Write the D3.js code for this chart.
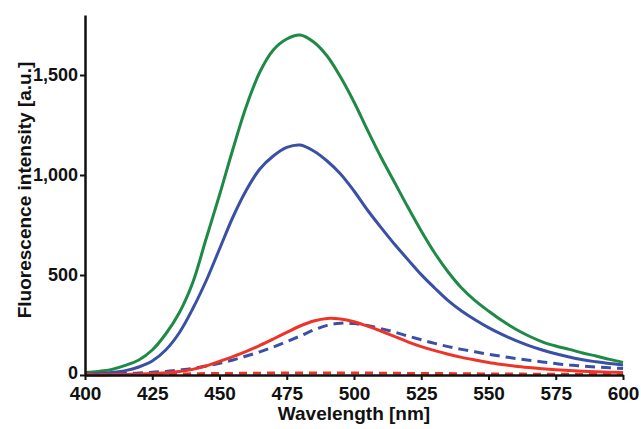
<!DOCTYPE html>
<html>
<head>
<meta charset="utf-8">
<script src="https://cdn.jsdelivr.net/npm/d3@7"></script>
<style>
  html, body { margin: 0; padding: 0; background: #fff; }
  svg { display: block; }
  text { font-family: "Liberation Sans", Arial, sans-serif; font-weight: bold; fill: #111; }
</style>
</head>
<body>
<svg id="chart" width="641" height="429"></svg>
<script>
// Wavelengths (nm), 5 nm steps
const wavelengths = [400,405,410,415,420,425,430,435,440,445,450,455,460,465,470,475,480,485,490,495,500,
                     505,510,515,520,525,530,535,540,545,550,555,560,565,570,575,580,585,590,595,600];

const greenSolid = [12,18,28,48,75,125,205,310,460,680,900,1130,1345,1515,1625,1680,1700,1665,1595,1490,1365,
                    1225,1090,965,840,720,610,515,435,372,320,272,230,195,166,145,128,110,95,78,63];

const blueSolid = [5,8,13,22,40,70,125,210,330,470,630,790,925,1030,1095,1138,1150,1120,1070,1005,920,
                   825,738,655,578,502,435,372,320,276,237,203,173,147,125,106,90,76,66,57,50];

const blueDashed = [2,3,5,7,10,14,18,25,33,45,58,75,95,116,140,167,195,225,248,259,257,
                    247,232,215,195,176,158,142,128,116,104,93,83,74,65,57,50,45,40,36,33];

const redSolid = [0,0,1,2,4,7,11,17,28,45,68,92,118,148,180,213,245,270,283,280,266,
                  244,220,193,166,142,122,104,88,75,63,53,44,37,31,26,22,19,16,14,12];

const redDashed = [2,2,3,3,4,4,5,5,6,7,8,8,9,9,10,10,10,10,10,10,10,
                   10,9,9,8,8,7,7,6,6,5,5,5,4,4,4,4,3,3,3,3];

const xTicks = [400,425,450,475,500,525,550,575,600];
const yTicks = [0,500,1000,1500];

const series = [
  { values: greenSolid, color: "#1f8a45", dash: null },
  { values: blueSolid,  color: "#3a50a6", dash: null },
  { values: blueDashed, color: "#3a50a6", dash: "10,6" },
  { values: redSolid,   color: "#ee3427", dash: null },
  { values: redDashed,  color: "#ee3427", dash: "8,6" }
];

const svg = d3.select("#chart");
const x = d3.scaleLinear().domain([400, 600]).range([85, 623]);
const y = d3.scaleLinear().domain([0, 1800]).range([375, 15]);

const line = d3.line()
  .x((d, i) => x(wavelengths[i]))
  .y(d => y(d))
  .curve(d3.curveCatmullRom.alpha(0.5));

const plot = svg.append("g");
series.forEach(s => {
  plot.append("path")
    .datum(s.values)
    .attr("d", line)
    .attr("fill", "none")
    .attr("stroke", s.color)
    .attr("stroke-width", 3)
    .attr("stroke-linejoin", "round")
    .attr("stroke-dasharray", s.dash);
});

// X axis
const xAxis = svg.append("g")
  .attr("transform", `translate(0,${y(0)})`)
  .call(d3.axisBottom(x).tickValues(xTicks).tickSize(5).tickPadding(7).tickSizeOuter(0));
xAxis.select(".domain").attr("stroke", "#111").attr("stroke-width", 2.5);
xAxis.selectAll(".tick line").attr("stroke", "#111").attr("stroke-width", 2);
xAxis.selectAll(".tick text").attr("font-size", 19).attr("fill", "#111")
  .attr("font-family", '"Liberation Sans", Arial, sans-serif').attr("font-weight", "bold");

// Y axis
const yAxis = svg.append("g")
  .attr("transform", `translate(${x(400)},0)`)
  .call(d3.axisLeft(y).tickValues(yTicks).tickSize(5).tickPadding(2).tickSizeOuter(0)
        .tickFormat(d3.format(",")));
yAxis.select(".domain").attr("stroke", "#111").attr("stroke-width", 2.5);
yAxis.selectAll(".tick line").attr("stroke", "#111").attr("stroke-width", 2);
yAxis.selectAll(".tick text").attr("font-size", 18).attr("fill", "#111")
  .attr("font-family", '"Liberation Sans", Arial, sans-serif').attr("font-weight", "bold");
yAxis.selectAll(".tick text").filter(d => d === 0).attr("dy", "0.2em");

// Axis titles
svg.append("text")
  .attr("x", (x(400) + x(600)) / 2)
  .attr("y", 420)
  .attr("text-anchor", "middle")
  .attr("font-size", 19)
  .text("Wavelength [nm]");

svg.append("text")
  .attr("transform", `translate(31,${(y(0) + 15) / 2 - 5}) rotate(-90)`)
  .attr("text-anchor", "middle")
  .attr("font-size", 19)
  .text("Fluorescence intensity [a.u.]");
</script>
</body>
</html>
